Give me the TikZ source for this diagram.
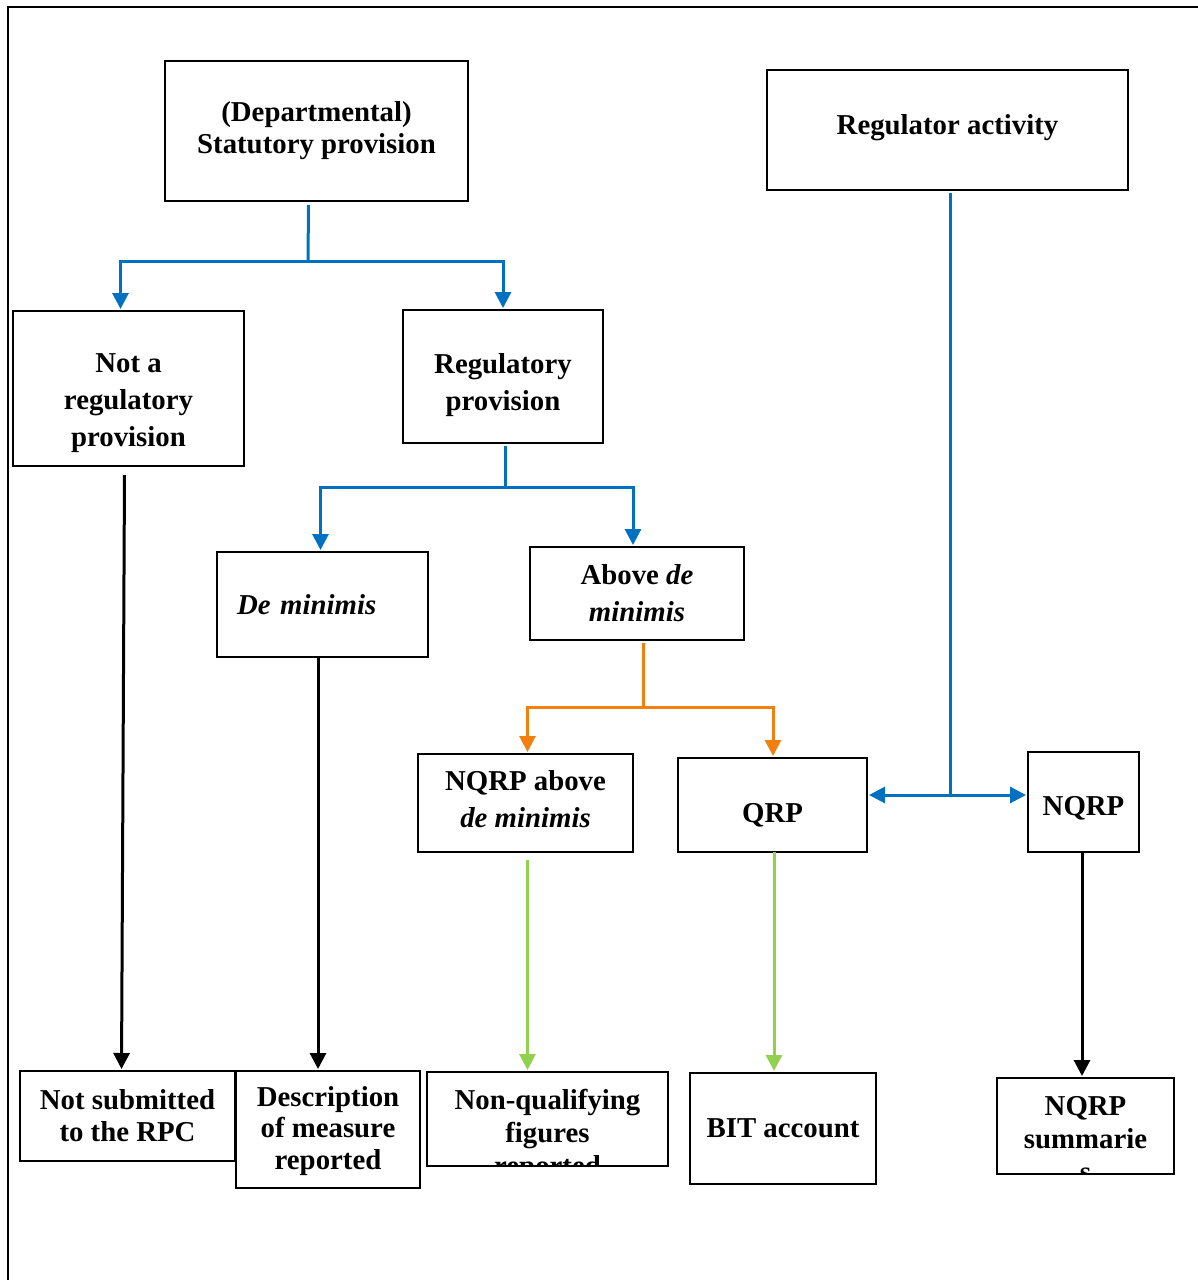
\documentclass[tikz,border=0pt]{standalone}
\usepackage{fontspec}
\setmainfont{Liberation Serif}
\usetikzlibrary{arrows.meta}
\definecolor{flowblue}{HTML}{0070C0}
\definecolor{floworange}{HTML}{F2800F}
\definecolor{flowgreen}{HTML}{92D050}

\tikzset{
  box/.style={draw, line width=0.6pt, align=center, inner sep=0pt, outer sep=0pt},
  tight/.style={font=\fontsize{14.4}{16}\selectfont\bfseries},
  loose/.style={font=\fontsize{14.4}{18.5}\selectfont\bfseries},
  boxtext/.style={align=center, inner sep=0pt},
  link/.style={line width=1.5pt},
  arr/.style={link, -{Triangle[width=8pt,length=8pt]}, shorten >=1pt}
}

\begin{document}
\begin{tikzpicture}[x=0.5pt, y=-0.5pt, tight]
  \useasboundingbox (0,0) rectangle (1198,1280);
  % --- frame ---
  \draw[line width=1pt] (8,1280) -- (8,7) -- (1198,7);

  % --- top row ---
  \node[box, minimum width=151.5pt, minimum height=70pt] (dept) at (316.5,131) {(Departmental)\\Statutory provision};
  \node[box, minimum width=180.5pt, minimum height=60pt] (regact) at (947.5,130) {};
  \node[boxtext] (regacttext) at (947.5,128) {Regulator activity};

  % --- second row ---
  \node[box, minimum width=115.5pt, minimum height=77.5pt] (notreg) at (128.5,388.5) {};
  \node[boxtext, loose] (notregtext) at (128.5,403) {Not a\\regulatory\\provision};
  \node[box, minimum width=100pt, minimum height=66.5pt] (regprov) at (503,376.5) {};
  \node[boxtext, loose] (regprovtext) at (503,385) {Regulatory\\provision};

  % --- third row ---
  \node[box, align=left, inner xsep=10pt, text width=85.5pt, minimum height=52.5pt] (demin) at (322.5,604.5) {\textit{De minimis}};
  \node[box, loose, minimum width=107pt, minimum height=46.5pt] (abovedm) at (637,593.5) {Above \textit{de}\\\textit{minimis}};

  % --- fourth row ---
  \node[box, minimum width=107.5pt, minimum height=49pt] (nqrpabove) at (525.5,803) {};
  \node[boxtext, loose] (nqrpabovetext) at (525.5,799) {NQRP above\\\textit{de minimis}};
  \node[box, minimum width=94.5pt, minimum height=47pt] (qrp) at (772.5,805) {};
  \node[boxtext] (qrptext) at (772.5,815) {QRP};
  \node[box, minimum width=55.5pt, minimum height=50pt] (nqrp) at (1083.5,802) {};
  \node[boxtext] (nqrptext) at (1083.5,808) {NQRP};

  % --- bottom row ---
  \node[box, minimum width=107.5pt, minimum height=45pt] (notsub) at (127.5,1116) {Not submitted\\to the RPC};
  \node[box, font=\fontsize{14.4}{15.75}\selectfont\bfseries, minimum width=92pt, minimum height=58.5pt] (desc) at (328,1129.5) {};
  \node[boxtext, font=\fontsize{14.4}{15.75}\selectfont\bfseries] (desctext) at (328,1131) {Description\\of measure\\reported};
  \node[box, minimum width=120.5pt, minimum height=47pt] (nonqual) at (547.5,1119) {};
  \begin{scope}
    \clip (nonqual.south west) rectangle (nonqual.north east);
    \node[boxtext, font=\fontsize{14.4}{16.5}\selectfont\bfseries, anchor=north] (nonqualtext) at ([yshift=-8.5pt]nonqual.north) {Non-qualifying\\figures\\reported};
  \end{scope}
  \node[box, minimum width=93pt, minimum height=55.5pt] (bit) at (783,1128.5) {BIT account};
  \node[box, minimum width=88.5pt, minimum height=48pt] (summ) at (1085.5,1126) {};
  \begin{scope}
    \clip (summ.south west) rectangle (summ.north east);
    \node[boxtext, font=\fontsize{14.4}{16.5}\selectfont\bfseries, anchor=north] (summtext) at ([yshift=-9pt]summ.north) {NQRP\\summarie\\s};
  \end{scope}

  % --- blue branches ---
  \coordinate (split1) at (308,261);
  \draw[link, flowblue] ([xshift=-4pt, yshift=-2pt]dept.south) -- (split1);
  \draw[arr, flowblue] (split1) -| ([xshift=-4pt]notreg.north);
  \draw[arr, flowblue] (split1) -| (regprov.north);

  \coordinate (split2) at (505,487);
  \draw[link, flowblue] ([xshift=1pt, yshift=-1.5pt]regprov.south) -- (split2);
  \draw[arr, flowblue] (split2) -| ([xshift=-1pt]demin.north);
  \draw[arr, flowblue] (split2) -| ([xshift=-2pt]abovedm.north);

  \coordinate (split4) at (950,795);
  \draw[link, flowblue] ([xshift=1.25pt, yshift=-1.5pt]regact.south) -- (split4);
  \draw[arr, flowblue] (split4) -- (split4 -| qrp.east);
  \draw[arr, flowblue] (split4) -- (split4 -| nqrp.west);

  % --- orange branch ---
  \coordinate (split3) at (643,707);
  \draw[link, floworange] ([xshift=3pt, yshift=-1.5pt]abovedm.south) -- (split3);
  \draw[arr, floworange] (split3) -| ([xshift=1pt]nqrpabove.north);
  \draw[arr, floworange] (split3) -| ([xshift=0.25pt]qrp.north);

  % --- down to outcomes ---
  \draw[arr] ([xshift=-2pt, yshift=-4.5pt]notreg.south) -- ([xshift=-3pt]notsub.north);
  \draw[arr] ([xshift=-2.25pt]demin.south) -- ([xshift=-5pt]desc.north);
  \draw[arr, flowgreen] ([xshift=1pt, yshift=-4pt]nqrpabove.south) -- ([xshift=-10pt]nonqual.north);
  \draw[arr, flowgreen] ([xshift=0.75pt]qrp.south) -- ([xshift=-4.5pt]bit.north);
  \draw[arr] ([xshift=-0.75pt]nqrp.south) -- ([xshift=-1.75pt]summ.north);
\end{tikzpicture}
\end{document}
